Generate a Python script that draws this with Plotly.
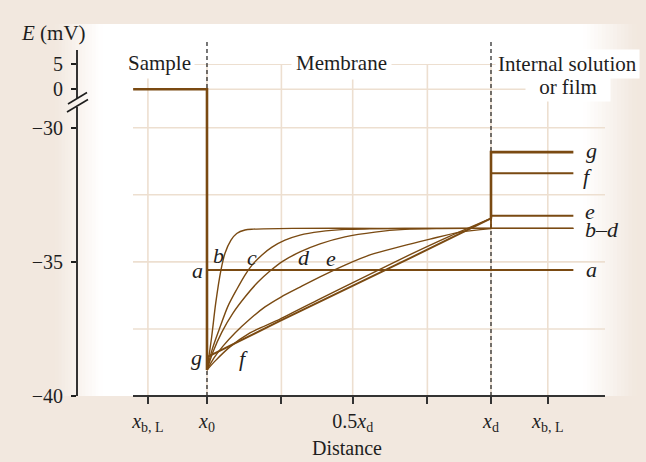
import plotly.graph_objects as go

# ---------------- data (x: fraction of membrane thickness, x0 = 0, xd = 1; E in mV) ----------------
x_tick_vals = [-0.208, 0.0, 0.262, 0.513, 0.776, 1.0, 1.2]
x_tick_text = ["<i>x</i><sub>b, L</sub>", "<i>x</i><sub>0</sub>", " ", "0.5<i>x</i><sub>d</sub>", " ",
               "<i>x</i><sub>d</sub>", "<i>x</i><sub>b, L</sub>"]
y_tick_vals_low = [-40, -35, -30]
y_tick_text_low = ["\u221240", "\u221235", "\u221230"]
y_tick_vals_high = [0, 5]
y_tick_text_high = ["0", "5"]
y_grid_low = [-37.5, -35, -32.5, -30]
y_grid_high = [0, 5]

sample_x = [-0.26, 0.0, 0.0]
sample_E = [0.0, 0.0, -39.03]

a_x = [0.0, 1.0, 1.29]
a_E = [-35.30, -35.30, -35.30]

b_x = [0, 0.0165, 0.0306, 0.0493, 0.0634, 0.0845, 0.1046, 0.1338, 0.163, 0.30, 0.60, 1.0, 1.29]
b_E = [-39.03, -37.79, -36.55, -35.30, -34.68, -34.19, -33.94, -33.81, -33.78, -33.75, -33.75, -33.75, -33.75]

c_x = [0, 0.0176, 0.0423, 0.0739, 0.1056, 0.1338, 0.1585, 0.1937, 0.2289, 0.2746, 0.3275, 0.3979,
       0.4859, 0.5739, 0.80, 1.0, 1.29]
c_E = [-39.03, -38.29, -37.54, -36.65, -36.01, -35.49, -35.12, -34.74, -34.45, -34.19, -34.00, -33.87,
       -33.79, -33.77, -33.75, -33.75, -33.75]

d_x = [0, 0.0211, 0.0528, 0.0915, 0.1338, 0.1796, 0.2218, 0.2676, 0.3275, 0.3979, 0.4859, 0.5915,
       0.6972, 0.8204, 1.0, 1.29]
d_E = [-39.03, -38.36, -37.61, -36.91, -36.31, -35.75, -35.34, -34.97, -34.63, -34.33, -34.07, -33.89,
       -33.79, -33.76, -33.75, -33.75]

e_x = [0, 0.0246, 0.0563, 0.0986, 0.1514, 0.2042, 0.2606, 0.3275, 0.3979, 0.4859, 0.5739, 0.6796,
       0.7852, 0.8908, 1.0]
e_E = [-39.03, -38.58, -38.14, -37.65, -37.13, -36.68, -36.31, -35.94, -35.56, -35.12, -34.74, -34.43,
       -34.15, -33.89, -33.76]

f_x = [0, 0.0282, 0.0810, 0.1514, 0.2570, 0.3979, 0.5387, 0.7148, 0.8556, 1.0]
f_E = [-39.03, -38.70, -38.17, -37.65, -37.13, -36.38, -35.64, -34.73, -34.04, -33.38]

g_x = [0, 0.2570, 0.7148, 1.0]
g_E = [-38.55, -37.20, -34.86, -33.38]

# internal solution / film (from x_d to the right end)
internal_x = [1.0, 1.0, 1.29]
e_internal_E = [-33.76, -33.28, -33.28]
f_internal_E = [-33.38, -31.70, -31.70]
g_internal_E = [-33.38, -30.91, -30.91]

# ---------------- style ----------------
BG = "#f2e8df"
GRID = "#eddfd0"
LINE = "#7a4a12"
INK = "#1e1e1e"
SERIF = "Liberation Serif"

# pixel helpers for decorations (plot area: x 77..605, y 64..396)
def px(xp):
    return (xp - 77) / 528.0

def py(yp):
    return (396 - yp) / 332.0

fig = go.Figure()

def add_line(x, y, width, yaxis="y", shape="linear"):
    fig.add_trace(go.Scatter(x=x, y=y, mode="lines", yaxis=yaxis, hoverinfo="skip",
                             line=dict(color=LINE, width=width, shape=shape, smoothing=0.8)))

add_line(a_x, a_E, 2.0)
add_line(b_x, b_E, 1.4, shape="spline")
add_line(c_x, c_E, 1.4, shape="spline")
add_line(d_x, d_E, 1.4, shape="spline")
add_line(e_x, e_E, 1.4, shape="spline")
add_line(internal_x, e_internal_E, 1.8)
add_line(f_x, f_E, 1.4, shape="spline")
add_line(internal_x, f_internal_E, 2.0)
add_line(g_x, g_E, 2.0)
add_line(internal_x, g_internal_E, 2.6)
add_line(sample_x, sample_E, 2.6, yaxis="y")
add_line(sample_x, sample_E, 2.6, yaxis="y2")

shapes = []
# background: white panel with soft horizontal fades
shapes.append(dict(type="rect", xref="paper", yref="paper", x0=px(100), x1=px(584), y0=0, y1=py(24),
                   fillcolor="white", line_width=0, layer="below"))

def mix(t):
    c0 = (0xf2, 0xe8, 0xdf)
    return "rgb(%d,%d,%d)" % tuple(round(c0[i] + (255 - c0[i]) * t) for i in range(3))

n = 14
for i in range(n):
    t = (i + 0.5) / n
    xl0 = 55 + (102 - 55) * i / n
    xl1 = 55 + (102 - 55) * (i + 1) / n + 0.6
    shapes.append(dict(type="rect", xref="paper", yref="paper", x0=px(xl0), x1=px(xl1), y0=0, y1=py(24),
                       fillcolor=mix(t), line_width=0, layer="below"))
    xr0 = 583 + (636 - 583) * i / n
    xr1 = 583 + (636 - 583) * (i + 1) / n + 0.6
    shapes.append(dict(type="rect", xref="paper", yref="paper", x0=px(xr0), x1=px(xr1), y0=0, y1=py(24),
                       fillcolor=mix(1 - t), line_width=0, layer="below"))

# grid lines (horizontal ones start where the x axis starts)
for v in y_grid_low:
    shapes.append(dict(type="line", xref="paper", yref="y", x0=px(133), x1=1, y0=v, y1=v,
                       line=dict(color=GRID, width=1.6), layer="below"))
for v in y_grid_high:
    shapes.append(dict(type="line", xref="paper", yref="y2", x0=px(133), x1=1, y0=v, y1=v,
                       line=dict(color=GRID, width=1.6), layer="below"))
for v in x_tick_vals:
    shapes.append(dict(type="line", xref="x", yref="paper", x0=v, x1=v, y0=0, y1=1,
                       line=dict(color=GRID, width=1.6), layer="below"))

# dashed interface lines at x0 and xd
for xv in (0.0, 1.0):
    shapes.append(dict(type="line", xref="x", yref="paper", x0=xv, x1=xv, y0=0, y1=py(40),
                       line=dict(color=INK, width=1.2, dash="4px,3px"), layer="between"))

# x axis line
shapes.append(dict(type="line", xref="paper", yref="paper", x0=px(133), x1=1, y0=0, y1=0,
                   line=dict(color="#333333", width=2.2), layer="above"))
# broken y axis line with // mark
shapes.append(dict(type="line", xref="paper", yref="paper", x0=0, x1=0, y0=py(50), y1=py(98),
                   line=dict(color=INK, width=1.8), layer="above"))
shapes.append(dict(type="line", xref="paper", yref="paper", x0=0, x1=0, y0=py(107), y1=0,
                   line=dict(color=INK, width=1.8), layer="above"))
shapes.append(dict(type="line", xref="paper", yref="paper", x0=px(68), x1=px(87), y0=py(104), y1=py(92.5),
                   line=dict(color=INK, width=1.6), layer="above"))
shapes.append(dict(type="line", xref="paper", yref="paper", x0=px(67), x1=px(88), y0=py(112), y1=py(99.5),
                   line=dict(color=INK, width=1.6), layer="above"))

annotations = []

def note(text, xp, yp, size=21, italic=False, bg=None, pad=1, w=None, h=None):
    t = "<i>%s</i>" % text if italic else text
    d = dict(text=t, xref="paper", yref="paper", x=px(xp), y=py(yp), xanchor="center", yanchor="middle",
             showarrow=False, font=dict(family=SERIF, size=size, color=INK), borderpad=pad)
    if bg:
        d["bgcolor"] = bg
    if w:
        d["width"] = w
    if h:
        d["height"] = h
    annotations.append(d)

note("Sample", 159, 63, bg="white", pad=3)
note("Membrane", 341, 63, bg="white", pad=4)
note("Internal solution", 567, 64, bg="white", pad=2)
note("or film", 567.5, 87, bg="white", pad=2, w=80)
note("<i>E</i> (mV)", 53, 33, size=21)
note("Distance", 347, 448, size=20)

for lab, xp, yp, h in [("a", 197, 270, None), ("b", 218, 255, None), ("c", 252, 257, None),
                       ("d", 304, 257, None), ("e", 331, 258, None),
                       ("g", 196, 357, None), ("f", 243, 358, None),
                       ("g", 591, 150, None), ("f", 587, 176, None), ("e", 590, 211, 16),
                       ("b\u2013d", 602, 229, 18), ("a", 591, 269, None)]:
    note(lab, xp, yp, size=22, italic=True, pad=0, h=h)

ytickfont = dict(family=SERIF, size=20, color=INK)
xtickfont = dict(family=SERIF, size=20, color=INK)
fig.update_layout(
    width=646, height=462, margin=dict(l=77, r=41, t=64, b=66),
    paper_bgcolor=BG, plot_bgcolor="rgba(0,0,0,0)", showlegend=False,
    xaxis=dict(range=[-0.4577, 1.4014], tickvals=x_tick_vals, ticktext=x_tick_text, ticks="outside",
               ticklen=7, tickwidth=1.5, tickcolor="#333333", showgrid=False,
               zeroline=False, showline=False, tickfont=xtickfont, anchor="y"),
    yaxis=dict(domain=[0, 0.8855], range=[-40, -29.04], tickvals=y_tick_vals_low, ticktext=y_tick_text_low,
               ticks="outside", ticklen=5, tickwidth=1.5, tickcolor=INK, showgrid=False, zeroline=False,
               showline=False, tickfont=ytickfont, anchor="x", ticklabelstandoff=4),
    yaxis2=dict(domain=[0.8855, 1], range=[-2.54, 5.06], tickvals=y_tick_vals_high, ticktext=y_tick_text_high,
                ticks="outside", ticklen=5, tickwidth=1.5, tickcolor=INK, showgrid=False, zeroline=False,
                showline=False, tickfont=ytickfont, anchor="x", ticklabelstandoff=4),
    shapes=shapes, annotations=annotations,
)

fig.write_html("out.html")
